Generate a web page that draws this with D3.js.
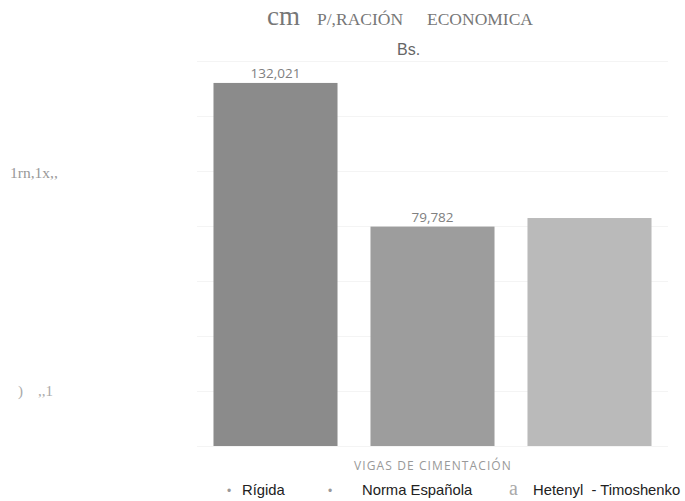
<!DOCTYPE html>
<head>
    <meta charset="utf-8">
    <style>
        body { margin: 0; background: #fff; }
        svg { display: block; }
        .grid line { stroke: #f4f4f4; }
        .grid path { display: none; }
    </style>
</head>
<body>
    <script src="https://d3js.org/d3.v7.min.js"></script>
    <script>

        // data
        var categories = ["Rígida", "Norma Española", "Hetenyl - Timoshenko"];
        var costs = [132021, 79782, 82900];
        var costLabels = ["132,021", "79,782", ""];
        var barColors = ["#8b8b8b", "#9d9d9d", "#bababa"];
        var yTicks = [0, 20000, 40000, 60000, 80000, 100000, 120000, 140000];

        var width = 685, height = 501;

        var svg = d3.select("body")
            .append("svg")
            .attr("width", width)
            .attr("height", height);

        // set the ranges
        var x = d3.scaleBand()
            .domain(categories)
            .range([197, 668])
            .paddingInner(0.21)
            .paddingOuter(0.105);

        var y = d3.scaleLinear()
            .domain([0, 140000])
            .range([446, 61]);

        // faint gridlines
        svg.append("g")
            .attr("class", "grid")
            .attr("transform", "translate(197,0)")
            .call(d3.axisLeft(y)
                .tickValues(yTicks)
                .tickSize(-471)
                .tickFormat(""));

        // bars
        svg.selectAll(".bar")
            .data(costs)
            .enter().append("rect")
            .attr("class", "bar")
            .attr("x", function(d, i) { return x(categories[i]); })
            .attr("y", function(d) { return y(d); })
            .attr("width", x.bandwidth())
            .attr("height", function(d) { return y(0) - y(d); })
            .attr("fill", function(d, i) { return barColors[i]; });

        // value labels
        svg.selectAll(".value")
            .data(costs)
            .enter().append("text")
            .attr("class", "value")
            .attr("x", function(d, i) { return x(categories[i]) + x.bandwidth() / 2; })
            .attr("y", function(d) { return y(d) - 5; })
            .attr("text-anchor", "middle")
            .style("font-family", "'Open Sans', sans-serif")
            .style("font-size", "13.5px")
            .style("fill", "#808080")
            .text(function(d, i) { return costLabels[i]; });

        // title (scanned text)
        var title = svg.append("text")
            .attr("x", 267)
            .attr("y", 25)
            .style("font-family", "'Liberation Serif', serif")
            .style("fill", "#777");
        title.append("tspan").style("font-size", "27px").text("cm");
        title.append("tspan").attr("x", 317).style("font-size", "17.5px").text("P/,RACIÓN");
        title.append("tspan").attr("x", 427).style("font-size", "17.5px").text("ECONOMICA");

        svg.append("text")
            .attr("x", 397)
            .attr("y", 55)
            .style("font-family", "'Liberation Sans', Arial, sans-serif")
            .style("font-size", "16px")
            .style("fill", "#666")
            .text("Bs.");

        // left side residue
        svg.append("text")
            .attr("x", 10)
            .attr("y", 178)
            .style("font-family", "'Liberation Serif', serif")
            .style("font-size", "15.5px")
            .style("fill", "#999")
            .text("1rn,1x,,");
        svg.append("text")
            .attr("x", 18)
            .attr("y", 396)
            .style("font-family", "'Liberation Serif', serif")
            .style("font-size", "15px")
            .style("fill", "#aaa")
            .text(")");
        svg.append("text")
            .attr("x", 38)
            .attr("y", 396)
            .style("font-family", "'Liberation Serif', serif")
            .style("font-size", "15px")
            .style("fill", "#aaa")
            .text(",,1");

        // x axis title
        svg.append("text")
            .attr("x", 433)
            .attr("y", 470)
            .attr("text-anchor", "middle")
            .style("font-family", "'Open Sans', sans-serif")
            .style("font-size", "12px")
            .style("letter-spacing", "1.1px")
            .style("fill", "#999")
            .text("VIGAS DE CIMENTACIÓN");

        // legend
        var legendMarks = [
            {x: 227, t: "•", size: "12px", font: "'Liberation Sans', sans-serif", fill: "#999"},
            {x: 328, t: "•", size: "12px", font: "'Liberation Sans', sans-serif", fill: "#999"},
            {x: 509, t: "a", size: "20px", font: "'Liberation Serif', serif", fill: "#aaa"}
        ];
        var legendX = [242, 362, 533];
        var legendText = ["Rígida", "Norma Española", "Hetenyl  - Timoshenko"];

        svg.selectAll(".legend-mark")
            .data(legendMarks)
            .enter().append("text")
            .attr("class", "legend-mark")
            .attr("x", function(d) { return d.x; })
            .attr("y", 495)
            .style("font-family", function(d) { return d.font; })
            .style("font-size", function(d) { return d.size; })
            .style("fill", function(d) { return d.fill; })
            .text(function(d) { return d.t; });

        svg.selectAll(".legend-text")
            .data(legendText)
            .enter().append("text")
            .attr("class", "legend-text")
            .attr("x", function(d, i) { return legendX[i]; })
            .attr("y", 495)
            .style("font-family", "'Liberation Sans', Arial, sans-serif")
            .style("font-size", "14.8px")
            .style("fill", "#222")
            .style("white-space", "pre")
            .text(function(d) { return d; });

    </script>
</body>
